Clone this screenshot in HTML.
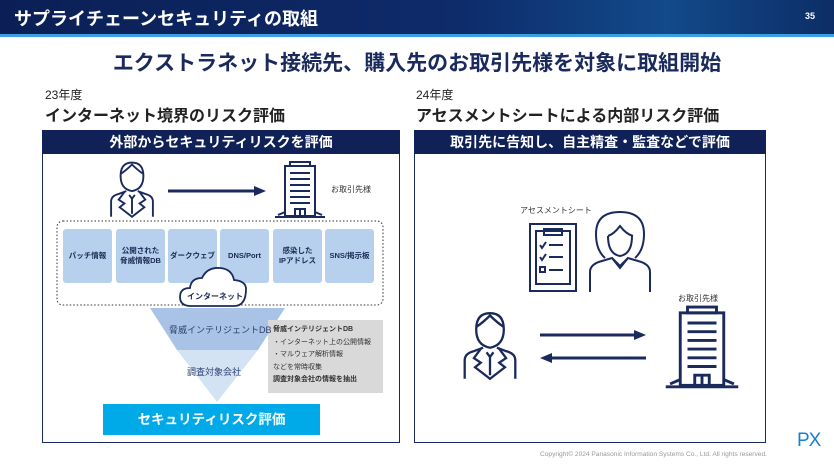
<!DOCTYPE html>
<html><head><meta charset="utf-8"><style>
body{margin:0;width:834px;height:469px;overflow:hidden;background:#fff;font-family:"Liberation Sans","Noto Sans CJK JP",sans-serif;position:relative}
.a{position:absolute}
.hdr{left:0;top:0;width:834px;height:34px;background:linear-gradient(90deg,#0b1f55 0%,#0e2b6a 55%,#124a8a 80%,#0d2d66 100%);border-bottom:3px solid #3aa0e0}
.tile{position:absolute;top:229px;width:49px;height:54px;background:#b6d0ee;border-radius:3px;font-size:7.5px;font-weight:bold;color:#1b2a55;display:flex;align-items:center;justify-content:center;text-align:center;line-height:1.3}
</style></head><body>
<div class="a hdr"></div>
<div class="a" style="left:14px;top:5px;color:#fff;font-size:18px;font-weight:bold">サプライチェーンセキュリティの取組</div>
<div class="a" style="left:805px;top:11px;color:#fff;font-size:9px;font-weight:bold">35</div>
<div class="a" style="left:0;width:834px;top:47px;text-align:center;font-size:21px;font-weight:bold;color:#1b2a5c">エクストラネット接続先、購入先のお取引先様を対象に取組開始</div>
<div class="a" style="left:45px;top:86px;font-size:12px;color:#222">23年度</div>
<div class="a" style="left:45px;top:102px;font-size:16px;font-weight:bold;color:#222">インターネット境界のリスク評価</div>
<div class="a" style="left:416px;top:86px;font-size:12px;color:#222">24年度</div>
<div class="a" style="left:416px;top:102px;font-size:16px;font-weight:bold;color:#222">アセスメントシートによる内部リスク評価</div>

<div class="a" style="left:42px;top:130px;width:356px;height:311px;border:1px solid #1b2a5c"></div>
<div class="a" style="left:42px;top:130px;width:358px;height:24px;background:#0f2156;color:#fff;font-size:14px;font-weight:bold;text-align:center;line-height:24px">外部からセキュリティリスクを評価</div>
<div class="a" style="left:414px;top:130px;width:350px;height:311px;border:1px solid #1b2a5c"></div>
<div class="a" style="left:414px;top:130px;width:352px;height:24px;background:#0f2156;color:#fff;font-size:14px;font-weight:bold;text-align:center;line-height:24px">取引先に告知し、自主精査・監査などで評価</div>

<svg class="a" style="left:0;top:0" width="834" height="469">
<defs>
<g id="man" fill="none" stroke="#1b2a5c" stroke-width="2">
<path d="M-12,-18 q0,-14 12,-14 q12,0 12,14 q0,14 -12,16 q-12,-2 -12,-16z"/>
<path d="M-12,-20 q6,-4 12,-10 q6,6 12,10"/>
<path d="M-22,25 v-16 q0,-6 8,-8 l8,-3 M22,25 v-16 q0,-6 -8,-8 l-8,-3"/>
<path d="M-8,-1 l-6,8 l6,4 l-5,4 l13,10 l13,-10 l-5,-4 l6,-4 l-6,-8 M-3,2 l3,4 l3,-4 M0,6 v16"/>
</g>
<g id="bld" fill="none" stroke="#1b2a5c" stroke-width="2">
<rect x="-15" y="-27" width="30" height="50"/><rect x="-10" y="-31" width="20" height="4"/>
<path d="M-10,-20h20M-10,-14h20M-10,-8h20M-10,-2h20M-10,4h20M-10,10h20M-5,23v-7h10v7M0,16v7M-25,24h50M-15,19l-7,3M15,19l7,3"/>
</g>
</defs>
<use href="#man" transform="translate(132,193) scale(0.95)"/>
<line x1="168" y1="191" x2="256" y2="191" stroke="#1b2a5c" stroke-width="3"/>
<polygon points="254,186 266,191 254,196" fill="#1b2a5c"/>
<use href="#bld" transform="translate(300,193)"/>
<rect x="57" y="221" width="326" height="84" rx="6" fill="none" stroke="#333" stroke-width="1" stroke-dasharray="1.5,2"/>
<polygon points="150,308 285,308 258,350 177,350" fill="#a8c3e6"/>
<polygon points="177,350 258,350 217,402" fill="#d4e3f4"/>
<rect x="268" y="320" width="115" height="73" fill="#d9d9d9"/>
<use href="#man" transform="translate(490,350) scale(1.15)"/>
<line x1="540" y1="335" x2="636" y2="335" stroke="#1b2a5c" stroke-width="3"/>
<polygon points="634,330 646,335 634,340" fill="#1b2a5c"/>
<line x1="550" y1="358" x2="646" y2="358" stroke="#1b2a5c" stroke-width="3"/>
<polygon points="552,353 540,358 552,363" fill="#1b2a5c"/>
<use href="#bld" transform="translate(702,352) scale(1.45)"/>
<g fill="none" stroke="#1b2a5c" stroke-width="2">
<rect x="530" y="224" width="46" height="67"/><rect x="536" y="231" width="34" height="53"/><rect x="544" y="229" width="18" height="6"/>
<path d="M540,245l2,3l4,-6M549,245h14M540,257l2,3l4,-6M549,257h14M549,270h14"/><rect x="540" y="267" width="5" height="5"/>
<path d="M605,258 q-9,-8 -9,-24 q0,-22 24,-22 q24,0 24,22 q0,16 -9,24 M608,236 q6,-2 12,-10 q6,8 13,10 M608,236 q0,18 12,20 q12,-2 12,-20 M590,292 v-20 q0,-8 12,-11 l10,-3 l8,10 l8,-10 l10,3 q12,3 12,11 v20 M612,258 l8,8 l8,-8"/>
</g>
</svg>
<div class="tile" style="left:63px">パッチ情報</div>
<div class="tile" style="left:116px">公開された<br>脅威情報DB</div>
<div class="tile" style="left:168px">ダークウェブ</div>
<div class="tile" style="left:220px">DNS/Port</div>
<div class="tile" style="left:273px">感染した<br>IPアドレス</div>
<div class="tile" style="left:325px">SNS/掲示板</div>
<svg class="a" style="left:0;top:0" width="834" height="469">
<path d="M191,306 q-11,0 -11,-9 q0,-9 10,-9 q1,-10 12,-10 q5,-11 18,-10 q12,1 14,12 q12,1 12,9 q0,17 -12,17 z" fill="#fff" stroke="#1b2a5c" stroke-width="1.8"/>
</svg>
<div class="a" style="left:187px;top:291px;font-size:8px;font-weight:bold;color:#1b2a55">インターネット</div>
<div class="a" style="left:169px;top:323px;font-size:9px;color:#2b3f6e">脅威インテリジェントDB</div>
<div class="a" style="left:187px;top:365px;font-size:9px;color:#2b3f6e">調査対象会社</div>
<div class="a" style="left:273px;top:324px;font-size:7px;color:#333;line-height:12.5px;white-space:nowrap"><b>脅威インテリジェントDB</b><br>・インターネット上の公開情報<br>・マルウェア解析情報<br>などを常時収集<br><b>調査対象会社の情報を抽出</b></div>
<div class="a" style="left:103px;top:404px;width:217px;height:31px;background:#00a9e8;color:#fff;font-size:13.5px;font-weight:bold;text-align:center;line-height:31px">セキュリティリスク評価</div>
<div class="a" style="left:331px;top:184px;font-size:8px;color:#333">お取引先様</div>
<div class="a" style="left:520px;top:205px;font-size:8px;color:#333">アセスメントシート</div>
<div class="a" style="left:678px;top:293px;font-size:8px;color:#333">お取引先様</div>
<div class="a" style="left:540px;top:451px;font-size:6.6px;color:#999">Copyright© 2024 Panasonic Information Systems Co., Ltd. All rights reserved.</div>
<div class="a" style="left:797px;top:430px;font-size:19px;color:#1a7fd0;letter-spacing:-1px">PX</div>
</body></html>
